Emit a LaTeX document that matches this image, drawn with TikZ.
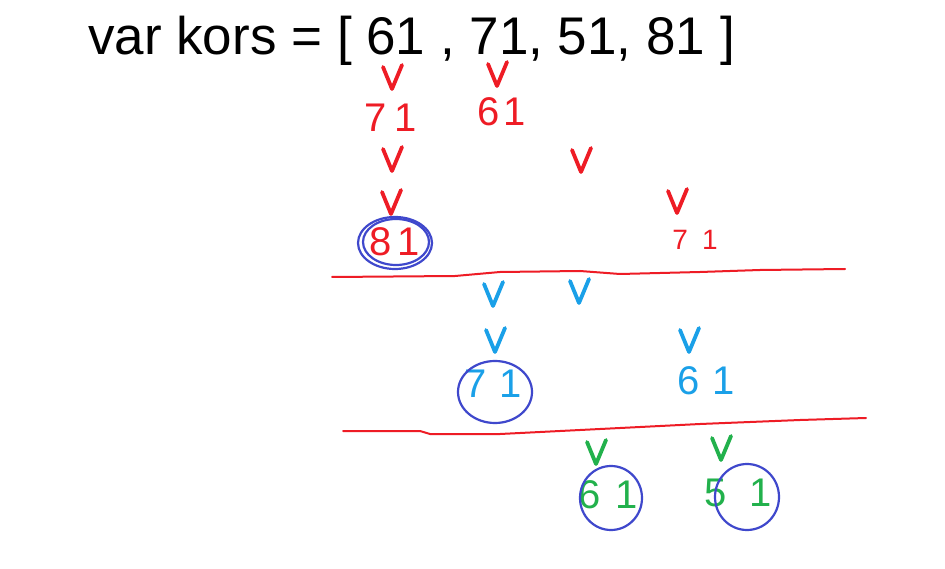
\documentclass[tikz,border=0pt]{standalone}
\usepackage{fontspec}
\setmainfont{Liberation Sans}
\definecolor{penred}{HTML}{EE1C25}
\definecolor{penblue}{HTML}{3F48CC}
\definecolor{pencyan}{HTML}{1AA0E8}
\definecolor{pengreen}{HTML}{22B14C}
\begin{document}
\begin{tikzpicture}[x=1pt,y=-1pt, line cap=round, line join=round,
  vmark/.pic={\draw[line width=3.8pt] (-9,-11) -- (0,11) -- (10,-13);},
  num/.style={inner sep=0, font=\fontsize{40}{40}\selectfont},
  small/.style={inner sep=0, font=\fontsize{28}{28}\selectfont},
  ring/.style={draw=penblue, line width=2.2pt},
  sep/.style={draw=penred, line width=2pt}]
\fill[white] (0,0) rectangle (945,569);
\useasboundingbox (0,0) rectangle (945,569);

\node[anchor=base west, inner sep=0, font=\fontsize{53}{53}\selectfont] (title) at (88,55) {var kors = [ 61 , 71, 51, 81 ]};

% red
\pic[penred] at (392,78) {vmark};
\pic[penred] at (497,75) {vmark};
\node[num, text=penred] (r71) at (391,118) {7\hspace{8pt}1};
\node[num, text=penred] (r61) at (502,112) {6\hspace{4pt}1};
\pic[penred] at (392,160) {vmark};
\pic[penred] at (581,161) {vmark};
\pic[penred] at (391,203) {vmark};
\pic[penred] at (677,202) {vmark};
\node[num, text=penred] (r81) at (395,242) {8\hspace{6pt}1};
\draw[ring] (395,243) ellipse [x radius=37, y radius=26];
\draw[ring] (396,242) ellipse [x radius=33, y radius=23];
\node[small, text=penred] (r71b) at (695,240) {7\hspace{14pt}1};
\draw[sep] (332,277) -- (455,276) -- (500,272) -- (580,271) -- (620,274) -- (700,272) -- (760,270) -- (845,269);

% cyan
\pic[pencyan] at (493,295) {vmark};
\pic[pencyan] at (579,292) {vmark};
\pic[pencyan] at (495,341) {vmark};
\pic[pencyan] at (689,341) {vmark};
\node[num, text=pencyan] (c71) at (493,384) {7\hspace{12pt}1};
\draw[ring] (495,392) ellipse [x radius=37, y radius=31];
\node[num, text=pencyan] (c61) at (706,381) {6\hspace{12pt}1};
\draw[sep] (343,431) -- (420,431) -- (430,434) -- (500,434) -- (600,429) -- (700,424) -- (800,420) -- (866,418);

% green
\pic[pengreen] at (596,453) {vmark};
\pic[pengreen] at (721,449) {vmark};
\node[num, text=pengreen] (g61) at (608,495) {6\hspace{14pt}1};
\draw[ring] (611,498) ellipse [x radius=31, y radius=32];
\node[num, text=pengreen] (g51) at (738,493) {5\hspace{22pt}1};
\draw[ring] (747,497) ellipse [x radius=32, y radius=33];
\end{tikzpicture}
\end{document}
